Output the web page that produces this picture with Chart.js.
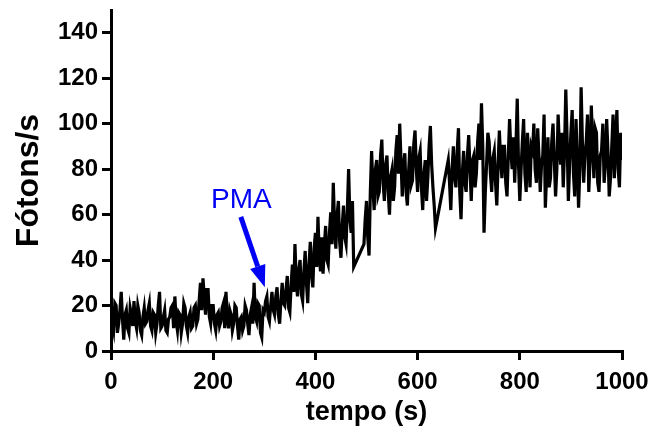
<!DOCTYPE html>
<html>
<head>
<meta charset="utf-8">
<script src="https://cdn.jsdelivr.net/npm/chart.js@4/dist/chart.umd.min.js"></script>
<style>
  html, body { margin: 0; padding: 0; background: #fff; }
  #wrap { width: 668px; height: 437px; position: relative; }
</style>
</head>
<body>
<div id="wrap"><canvas id="mainChart" width="668" height="437"></canvas></div>
<script>
// tempo (s)
const times = [
    0,2.5,5,7.5,10,12.5,15,17.5,20,22.5,
    25,27.5,30,32.5,35,37.5,40,42.5,45,47.5,
    50,52.5,55,57.5,60,62.5,65,67.5,70,72.5,
    75,77.5,80,82.5,85,87.5,90,92.5,95,97.5,
    100,102.5,105,107.5,110,112.5,115,117.5,120,122.5,
    125,127.5,130,132.5,135,137.5,140,142.5,145,147.5,
    150,152.5,155,157.5,160,162.5,165,167.5,170,172.5,
    175,177.5,180,182.5,185,187.5,190,192.5,195,197.5,
    200,202.5,205,207.5,210,212.5,215,217.5,220,222.5,
    225,227.5,230,232.5,235,237.5,240,242.5,245,247.5,
    250,252.5,255,257.5,260,262.5,265,267.5,270,272.5,
    275,277.5,280,282.5,285,287.5,290,292.5,295,297.5,
    300,302.5,305,307.5,310,312.5,315,317.5,320,322.5,
    325,327.5,330,332.5,335,337.5,340,342.5,345,347.5,
    350,352.5,355,357.5,360,362.5,365,367.5,370,372.5,
    375,377.5,380,382.5,385,387.5,390,392.5,395,397.5,
    400,402.5,405,407.5,410,412.5,415,417.5,420,422.5,
    425,427.5,430,432.5,435,437.5,440,442.5,445,447.5,
    450,452.5,455,457.5,460,462.5,465,467.5,470,472.5,
    475,
    495,497.5,500,502.5,505,507.5,510,512.5,515,517.5,
    520,522.5,525,527.5,530,532.5,535,537.5,540,542.5,
    545,547.5,550,552.5,555,557.5,560,562.5,565,567.5,
    570,572.5,575,577.5,580,582.5,585,587.5,590,592.5,
    595,597.5,600,602.5,605,607.5,610,612.5,615,617.5,
    620,622.5,625,627.5,630,632.5,635,
    660,662.5,665,667.5,670,672.5,675,677.5,680,682.5,
    685,687.5,690,692.5,695,697.5,700,702.5,705,707.5,
    710,712.5,715,717.5,720,722.5,725,727.5,730,732.5,
    735,737.5,740,742.5,745,747.5,750,752.5,755,757.5,
    760,762.5,765,767.5,770,772.5,775,777.5,780,782.5,
    785,787.5,790,792.5,795,797.5,800,802.5,805,807.5,
    810,812.5,815,817.5,820,822.5,825,827.5,830,832.5,
    835,837.5,840,842.5,845,847.5,850,852.5,855,857.5,
    860,862.5,865,867.5,870,872.5,875,877.5,880,882.5,
    885,887.5,890,892.5,895,897.5,900,902.5,905,907.5,
    910,912.5,915,917.5,920,922.5,925,927.5,930,932.5,
    935,937.5,940,942.5,945,947.5,950,952.5,955,957.5,
    960,962.5,965,967.5,970,972.5,975,977.5,980,982.5,
    985,987.5,990,992.5,995,997.5,1000
];

// Fótons/s
const photons = [
    17,12,9,21,20,8,12,18,26,14,
    5,16,18,10,8,19,16,11,22,13,
    10,20,17,9,7,15,19,12,13,18,
    21,11,9,17,16,8,12,20,26,10,
    11,15,18,9,8,14,15,19,20,10,
    24,13,9,17,16,8,12,21,19,11,
    8,15,17,10,11,19,20,12,14,22,
    30,18,32,24,16,27,27,15,12,20,
    20,12,9,16,17,11,13,19,21,10,
    26,15,10,18,16,9,12,20,19,11,
    5,14,15,9,11,20,18,12,7,16,
    19,12,30,15,13,21,20,8,6,18,
    17,22,24,15,13,20,26,18,16,24,
    28,16,12,22,30,21,20,27,33,19,
    17,29,38,26,47,30,24,36,40,25,
    22,35,44,30,21,38,48,33,28,45,
    52,37,59,42,35,50,34,46,55,40,
    38,52,61,47,74,56,45,60,66,48,
    41,55,64,50,47,62,80,58,52,66,
    37,
    47,58,66,50,42,70,88,72,62,80,
    84,68,70,86,93,74,66,82,86,70,
    60,77,80,66,72,88,95,78,100,84,
    68,82,87,70,64,79,90,73,75,91,
    97,80,70,85,88,72,62,78,84,66,
    76,90,99,82,72,64,54,
    84,74,62,80,90,76,72,88,98,70,
    58,78,88,74,70,86,95,80,66,84,
    86,72,78,92,100,84,109,90,52,70,
    82,96,92,78,70,85,88,74,64,82,
    97,84,76,90,90,74,68,86,102,88,
    80,94,74,90,111,82,66,80,92,102,
    78,70,96,84,72,90,88,100,80,74,
    98,86,70,82,86,104,63,78,94,72,
    76,92,100,84,68,80,104,90,82,96,
    72,88,115,94,66,82,96,106,78,68,
    102,84,63,80,116,92,74,86,92,104,
    70,84,108,90,76,98,96,74,70,86,
    88,100,74,82,102,88,68,76,90,104,
    76,92,106,80,72,96,84
];

const xTicks = [0, 200, 400, 600, 800, 1000];
const yTicks = [0, 20, 40, 60, 80, 100, 120, 140];

// PMA annotation, in data units
const pmaText = { label: 'PMA', t: 255, v: 63 };
const pmaArrow = { fromT: 254, fromV: 59, toT: 301, toV: 28 };

const FONT = 'Arial, "Liberation Sans", sans-serif';

const pmaPlugin = {
    id: 'pma',
    afterDatasetsDraw(chart) {
        const { ctx, scales: { x, y } } = chart;
        ctx.save();
        ctx.fillStyle = '#0000f5';
        ctx.strokeStyle = '#0000f5';
        ctx.font = '28px ' + FONT;
        ctx.textAlign = 'center';
        ctx.textBaseline = 'alphabetic';
        ctx.fillText(pmaText.label, x.getPixelForValue(pmaText.t), y.getPixelForValue(pmaText.v));

        const x0 = x.getPixelForValue(pmaArrow.fromT), y0 = y.getPixelForValue(pmaArrow.fromV);
        const x1 = x.getPixelForValue(pmaArrow.toT), y1 = y.getPixelForValue(pmaArrow.toV);
        const ang = Math.atan2(y1 - y0, x1 - x0);
        const headLen = 22, headHalf = 8;
        const bx = x1 - headLen * Math.cos(ang), by = y1 - headLen * Math.sin(ang);
        ctx.lineWidth = 5;
        ctx.beginPath();
        ctx.moveTo(x0, y0);
        ctx.lineTo(bx, by);
        ctx.stroke();
        ctx.beginPath();
        ctx.moveTo(x1, y1);
        ctx.lineTo(bx + headHalf * Math.sin(ang), by - headHalf * Math.cos(ang));
        ctx.lineTo(bx - headHalf * Math.sin(ang), by + headHalf * Math.cos(ang));
        ctx.closePath();
        ctx.fill();
        ctx.restore();
    }
};

window.onload = () => {
    const ctx = document.getElementById('mainChart');
    new Chart(ctx, {
        type: 'line',
        data: {
            datasets: [{
                data: times.map((t, i) => ({ x: t, y: photons[i] })),
                borderColor: '#000',
                borderWidth: 3.2,
                pointRadius: 0,
                tension: 0,
                fill: false
            }]
        },
        options: {
            responsive: false,
            animation: false,
            layout: { padding: { top: 10, right: 46, left: 0, bottom: 0 } },
            plugins: { legend: { display: false }, tooltip: { enabled: false } },
            scales: {
                x: {
                    type: 'linear',
                    min: 0,
                    max: 1000,
                    afterBuildTicks: (s) => { s.ticks = xTicks.map(v => ({ value: v })); },
                    afterFit: (s) => { s.height = 86; },
                    border: { color: '#000', width: 3 },
                    grid: { drawOnChartArea: false, drawTicks: true, tickLength: 9, color: '#000', lineWidth: 3 },
                    ticks: { color: '#000', font: { family: FONT, size: 24, weight: 'bold' }, padding: 8, maxRotation: 0, callback: (v) => String(v) },
                    title: { display: true, text: 'tempo (s)', color: '#000', font: { family: FONT, size: 27, weight: 'bold' }, padding: { top: 0, bottom: 8 } }
                },
                y: {
                    min: 0,
                    max: 150,
                    afterBuildTicks: (s) => { s.ticks = yTicks.map(v => ({ value: v })); },
                    afterFit: (s) => { s.width = 111; s.paddingTop = 0; s.paddingBottom = 0; },
                    border: { color: '#000', width: 3 },
                    grid: { drawOnChartArea: false, drawTicks: true, tickLength: 9, color: '#000', lineWidth: 3 },
                    ticks: { color: '#000', font: { family: FONT, size: 24, weight: 'bold' }, padding: 4, callback: (v) => String(v) },
                    title: { display: true, text: 'Fótons/s', color: '#000', font: { family: FONT, size: 32, weight: 'bold' }, padding: { top: 10, bottom: 0 } }
                }
            }
        },
        plugins: [pmaPlugin]
    });
};
</script>
</body>
</html>
